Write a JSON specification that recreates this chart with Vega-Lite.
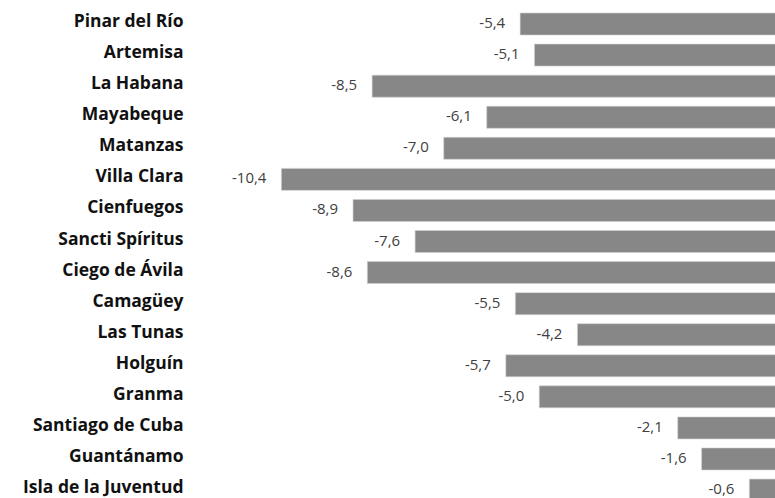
{
  "$schema": "https://vega.github.io/schema/vega-lite/v6.json",
  "autosize": {"type": "none"},
  "padding": {"left": 205, "top": 8.5, "right": 0, "bottom": 0},
  "width": 573,
  "height": 497.1,
  "background": "white",
  "config": {
    "view": {"stroke": null},
    "locale": {"number": {"decimal": ",", "thousands": ".", "grouping": [3], "currency": ["", " €"], "minus": "-"}}
  },
  "data": {"values": [
    {"provincia": "Pinar del Río", "valor": -5.4},
    {"provincia": "Artemisa", "valor": -5.1},
    {"provincia": "La Habana", "valor": -8.5},
    {"provincia": "Mayabeque", "valor": -6.1},
    {"provincia": "Matanzas", "valor": -7.0},
    {"provincia": "Villa Clara", "valor": -10.4},
    {"provincia": "Cienfuegos", "valor": -8.9},
    {"provincia": "Sancti Spíritus", "valor": -7.6},
    {"provincia": "Ciego de Ávila", "valor": -8.6},
    {"provincia": "Camagüey", "valor": -5.5},
    {"provincia": "Las Tunas", "valor": -4.2},
    {"provincia": "Holguín", "valor": -5.7},
    {"provincia": "Granma", "valor": -5.0},
    {"provincia": "Santiago de Cuba", "valor": -2.1},
    {"provincia": "Guantánamo", "valor": -1.6},
    {"provincia": "Isla de la Juventud", "valor": -0.6}
  ]},
  "encoding": {
    "y": {
      "field": "provincia", "type": "nominal", "sort": null,
      "scale": {"paddingInner": 0.292, "paddingOuter": 0.146},
      "axis": {"title": null, "ticks": false, "domain": false, "labelPadding": 22, "labelOffset": -2,
               "labelFont": "Open Sans", "labelFontWeight": "bold", "labelFontSize": 17.5, "labelColor": "#111111"}
    },
    "x": {
      "field": "valor", "type": "quantitative",
      "scale": {"domain": [-12, 0], "nice": false},
      "axis": null
    }
  },
  "layer": [
    {"mark": {"type": "bar", "color": "#878787", "stroke": "#d0d0d0", "strokeWidth": 0.6}},
    {"mark": {"type": "text", "align": "right", "baseline": "middle", "dx": -15, "dy": -1, "font": "Open Sans", "fontSize": 15, "color": "#404040"},
     "encoding": {"text": {"field": "valor", "type": "quantitative", "format": ".1f"}}}
  ]
}
